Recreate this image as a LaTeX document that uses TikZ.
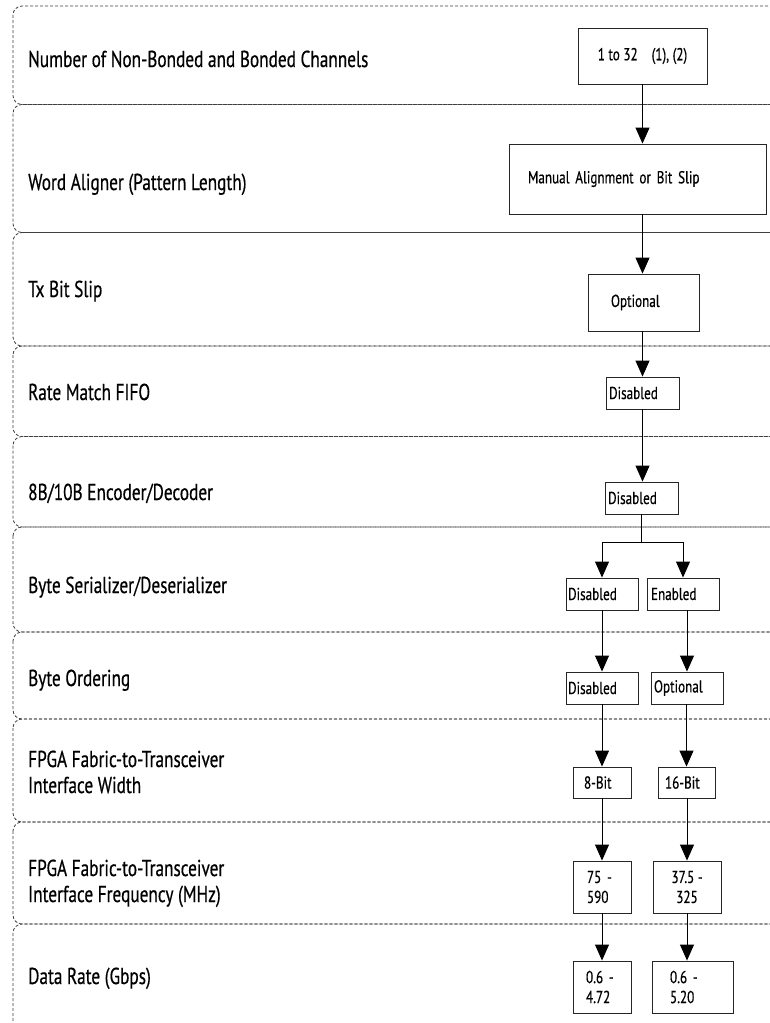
\documentclass[tikz,border=0pt]{standalone}
\usepackage{fontspec}
\setmainfont{PT Sans}
\newfontfamily\lblfont{PT Sans}[FakeStretch=0.75,FakeBold=0.5]
\newfontfamily\bxfont{PT Sans}[FakeStretch=0.76,FakeBold=0.5]
\usetikzlibrary{arrows.meta}
\begin{document}
\begin{tikzpicture}[x=1pt,y=-1pt,
  rowline/.style={draw=black!75, dash pattern=on 3pt off 2pt, line width=0.8pt, rounded corners=9pt},
  lbl/.style={anchor=base west, inner sep=0pt, font=\lblfont\fontsize{23}{26}\selectfont, align=left},
  box/.style={draw=black!85, line width=0.9pt, inner ysep=0pt, font=\bxfont\fontsize{17.3}{20}\selectfont},
  lt/.style n args={4}{minimum width=#1pt, minimum height=#2pt, inner xsep=#3pt, text width=#4pt, align=left},
  ct/.style n args={2}{minimum width=#1pt, minimum height=#2pt, inner xsep=0pt, align=center},
  arr/.style={draw=black, line width=0.9pt, -{Triangle[width=14pt,length=16pt]}},
  seg/.style={draw=black, line width=0.9pt}]
\useasboundingbox (0,0) rectangle (770,1023);
\fill[white] (0,0) rectangle (770,1023);
\begin{scope}
\clip (0,0) rectangle (770,1023);
\draw[rowline] (13,6) rectangle (800,104.5);
\draw[rowline] (13,104.5) rectangle (800,232.5);
\draw[rowline] (13,232.5) rectangle (800,346);
\draw[rowline] (13,346) rectangle (800,436.5);
\draw[rowline] (13,436.5) rectangle (800,527);
\draw[rowline] (13,527) rectangle (800,632);
\draw[rowline] (13,632) rectangle (800,719);
\draw[rowline] (13,719) rectangle (800,822);
\draw[rowline] (13,822) rectangle (800,924);
\draw[rowline] (13,924) rectangle (800,1040);
\end{scope}
% labels
\node[lbl] (l1) at (28,67) {Number of Non-Bonded and Bonded Channels};
\node[lbl] (l2) at (28,190) {Word Aligner (Pattern Length)};
\node[lbl] (l3) at (28,297) {Tx Bit Slip};
\node[lbl] (l4) at (28,400) {Rate Match FIFO};
\node[lbl] (l5) at (28,500) {8B/10B Encoder/Decoder};
\node[lbl] (l6) at (28,593) {Byte Serializer/Deserializer};
\node[lbl] (l7) at (28,686) {Byte Ordering};
\node[lbl] (l8) at (28,793) {FPGA Fabric-to-Transceiver\\Interface Width};
\node[lbl] (l9) at (28,902) {FPGA Fabric-to-Transceiver\\Interface Frequency (MHz)};
\node[lbl] (l10) at (28,984) {Data Rate (Gbps)};
% boxes
\node[box, ct={129}{56}] (b1) at (642.5,56) {1 to 32\hspace{14pt}(1), (2)};
\node[box, lt={257}{70}{19}{219}] (b2) at (637.5,179) {Manual Alignment or Bit Slip};
\node[box, lt={111}{57}{23}{65}] (b3) at (643.5,302.5) {Optional};
\node[box, lt={73}{32}{3}{67}] (b4) at (642.5,393) {Disabled};
\node[box, lt={73}{32}{3}{67}] (b5) at (641.5,498) {Disabled};
\node[box, lt={72}{32}{2}{68}] (b6a) at (602,594) {Disabled};
\node[box, lt={72}{32}{4}{64}] (b6b) at (683,594) {Enabled};
\node[box, lt={72}{32}{2}{68}] (b7a) at (602,688) {Disabled};
\node[box, lt={72}{32}{3}{66}] (b7b) at (687,688) {Optional};
\node[box, lt={58}{31}{11}{36}] (b8a) at (602,782.5) {8-Bit};
\node[box, lt={57}{31}{7}{43}] (b8b) at (686.5,782.5) {16-Bit};
\node[box, lt={58}{52}{14}{30}] (b9a) at (602,887) {75 -\\590};
\node[box, ct={68}{52}] (b9b) at (687,887) {37.5 -\\325};
\node[box, lt={58}{52}{13}{32}] (b10a) at (602,987) {0.6 -\\4.72};
\node[box, lt={81}{52}{18}{45}] (b10b) at (692.5,987) {0.6 -\\5.20};
% connectors
\draw[arr] (b1.south) -- (b1.south |- b2.north);
\draw[arr] (b1.south |- b2.south) -- (b1.south |- b3.north);
\draw[arr] (b1.south |- b3.south) -- (b1.south |- b4.north);
\draw[arr] (b1.south |- b4.south) -- (b1.south |- b5.north);
\coordinate (j) at (b5.south |- 0,542);
\draw[seg] (b5.south) -- (j);
\draw[seg] (j -| b6a.north) -- (j -| b6b.north);
\draw[arr] (j -| b6a.north) -- (b6a.north);
\draw[arr] (j -| b6b.north) -- (b6b.north);
\draw[arr] (b6a.south) -- (b6a.south |- b7a.north);
\draw[arr] (b7b.north |- b6b.south) -- (b7b.north);
\draw[arr] (b7a.south) -- (b7a.south |- b8a.north);
\draw[arr] (b8b.north |- b7b.south) -- (b8b.north);
\draw[arr] (b8a.south) -- (b8a.south |- b9a.north);
\draw[arr] (b9b.north |- b8b.south) -- (b9b.north);
\draw[arr] (b9a.south) -- (b9a.south |- b10a.north);
\draw[arr] (b9b.south) -- (b9b.south |- b10b.north);
\end{tikzpicture}
\end{document}
